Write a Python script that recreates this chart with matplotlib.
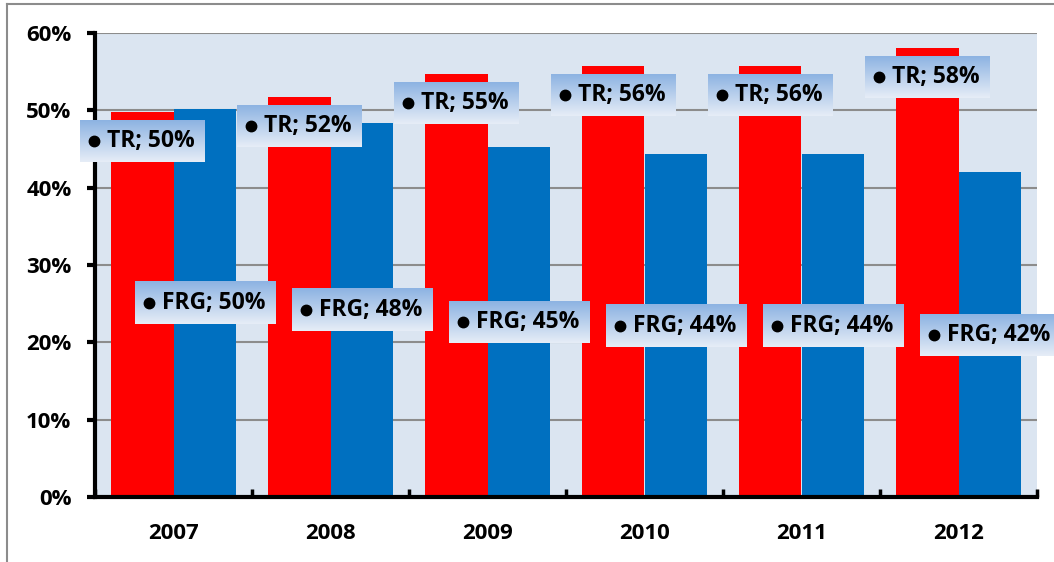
import matplotlib
matplotlib.use("Agg")
import matplotlib.pyplot as plt
import numpy as np
from matplotlib.lines import Line2D

years = ["2007", "2008", "2009", "2010", "2011", "2012"]
tr_values = [49.8, 51.7, 54.7, 55.7, 55.7, 58.0]
frg_values = [50.2, 48.3, 45.3, 44.3, 44.3, 42.0]
tr_labels = ["TR; 50%", "TR; 52%", "TR; 55%", "TR; 56%", "TR; 56%", "TR; 58%"]
frg_labels = ["FRG; 50%", "FRG; 48%", "FRG; 45%", "FRG; 44%", "FRG; 44%", "FRG; 42%"]
y_ticks = [0, 10, 20, 30, 40, 50, 60]

FONT = ["Open Sans", "DejaVu Sans"]
PX = 0.72  # points per pixel at dpi 100


def main():
	plt.rcParams["font.family"] = FONT
	fig = plt.figure(figsize=(10.54, 5.62), dpi=100)
	ax = fig.add_axes([95 / 1054, 1 - 497 / 562, 942 / 1054, 464 / 562])
	ax.set_facecolor("#DBE5F1")

	x = np.arange(len(years))
	width = 0.4
	ax.bar(x - width / 2, tr_values, width=width, color="#FF0000", zorder=2)
	ax.bar(x + width / 2, frg_values, width=width, color="#0070C0", zorder=2)

	ax.set_xlim(-0.5, len(years) - 0.5)
	ax.set_ylim(0, 60)
	ax.set_yticks(y_ticks)
	ax.set_yticklabels([f"{v}%" for v in y_ticks], fontsize=16, fontweight="bold")
	ax.set_xticks(x)
	ax.set_xticklabels(years, fontsize=16, fontweight="bold")
	ax.set_xticks(np.arange(len(years) + 1) - 0.5, minor=True)
	ax.tick_params(axis="x", which="major", length=0, pad=19)
	ax.tick_params(axis="x", which="minor", direction="in", length=6, width=2.5)
	ax.tick_params(axis="y", which="major", direction="out", length=6, width=3, pad=11)

	ax.yaxis.grid(True, color="#8C8C8C", linewidth=1.5, zorder=0)
	ax.set_axisbelow(True)
	for side in ["top", "right"]:
		ax.spines[side].set_visible(False)
	ax.spines["left"].set_linewidth(3)
	ax.spines["bottom"].set_linewidth(3)

	# data labels: text shifted right to leave room for the bullet
	labels = []
	for i in range(len(years)):
		anchor = (x[i] - width / 2, tr_values[i])
		t = ax.annotate(tr_labels[i], xy=anchor, xytext=(8.5 * PX, -29 * PX),
			textcoords="offset points", ha="center", va="center",
			fontsize=16.5, fontweight="bold", zorder=6, annotation_clip=False)
		labels.append((t, anchor, -29))
		anchor = (x[i] + width / 2, frg_values[i] / 2)
		t = ax.annotate(frg_labels[i], xy=anchor, xytext=(8.5 * PX, 0),
			textcoords="offset points", ha="center", va="center",
			fontsize=16.5, fontweight="bold", zorder=6, annotation_clip=False)
		labels.append((t, anchor, 0))

	# gradient boxes and bullets behind the labels
	fig.canvas.draw()
	grad = np.linspace(0, 1, 64).reshape(-1, 1, 1)
	top = np.array([0x8D, 0xB3, 0xE2]) / 255
	bottom = np.array([0xE6, 0xED, 0xF7]) / 255
	img = top * (1 - grad) + bottom * grad
	inv = ax.transData.inverted()
	for t, anchor, dy in labels:
		bb = t.get_window_extent()
		cx, cy = ax.transData.transform(anchor)
		cy += dy
		(x0, y0), (x1, y1) = inv.transform([[bb.x0 - 27, cy - 21], [bb.x1 + 10, cy + 21]])
		ax.imshow(img, extent=(x0, x1, y0, y1), aspect="auto", zorder=4,
			interpolation="bilinear", clip_on=False)
		dot = inv.transform([bb.x0 - 13, cy])
		ax.plot(dot[0], dot[1], marker="o", markersize=7.5, color="black", zorder=6, clip_on=False)
	ax.set_xlim(-0.5, len(years) - 0.5)
	ax.set_ylim(0, 60)

	# outer chart border
	fig.add_artist(Line2D([7 / 1054, 1], [1 - 4 / 562, 1 - 4 / 562], color="#8C8C8C", lw=1.5))
	fig.add_artist(Line2D([7 / 1054, 7 / 1054], [0, 1 - 4 / 562], color="#8C8C8C", lw=1.5))

	fig.savefig("out.png", dpi=100)


if __name__ == "__main__":
	main()
